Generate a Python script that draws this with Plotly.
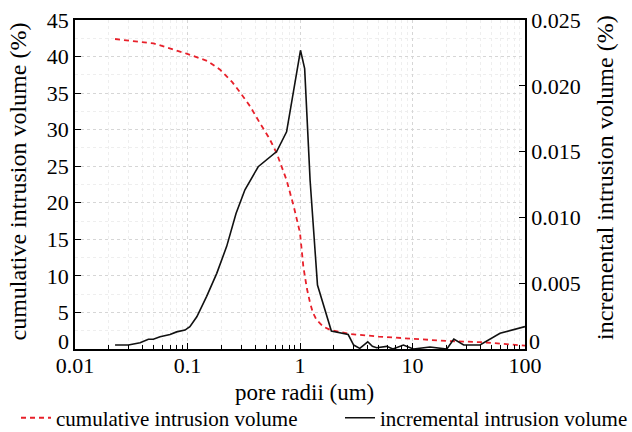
import plotly.graph_objects as go

# cumulative intrusion volume (%) vs pore radius (um)
cum_x = [0.0227, 0.05, 0.098, 0.15, 0.195, 0.25, 0.29, 0.36, 0.44, 0.53, 0.62, 0.76, 0.88, 1.0, 1.07, 1.15, 1.23, 1.3, 1.4, 1.6, 1.86, 2.3, 2.77, 5.0, 10.9, 20.0, 42.6, 70.0, 100.0]
cum_y = [42.4, 41.8, 40.4, 39.4, 38.2, 36.5, 35.2, 33.2, 30.9, 28.9, 26.8, 23.1, 19.5, 15.9, 11.3, 8.3, 6.3, 5.0, 4.0, 3.1, 2.6, 2.3, 2.05, 1.7, 1.33, 1.1, 0.92, 0.65, 0.45]

# incremental intrusion volume (%) vs pore radius (um)
inc_x = [0.0227, 0.0298, 0.0379, 0.0449, 0.0497, 0.057, 0.07, 0.08, 0.095, 0.105, 0.121, 0.148, 0.182, 0.223, 0.27, 0.324, 0.425, 0.62, 0.76, 1.01, 1.1, 1.23, 1.43, 1.9, 2.68, 3.0, 3.4, 4.0, 4.4, 4.8, 5.9, 6.7, 8.3, 10.2, 14.3, 20.2, 23.3, 28.5, 39.8, 60.0, 100.0]
inc_y = [0.0003, 0.0003, 0.00048, 0.00074, 0.00074, 0.00093, 0.0011, 0.0013, 0.00144, 0.0017, 0.00245, 0.004, 0.00575, 0.0078, 0.0103, 0.0121, 0.01385, 0.015, 0.0165, 0.0227, 0.0213, 0.0128, 0.00486, 0.00137, 0.0011, 0.0003, 0.00005, 0.00055, 0.0002, 0.0001, 0.0002, 0.0, 0.0003, 0.0, 0.00015, 0.0, 0.00075, 0.0003, 0.0003, 0.0012, 0.0017]

x_tickvals = [0.01, 0.1, 1, 10, 100]
x_ticktext = ["0.01", "0.1", "1", "10", "100"]
x_minor = [m * 10.0 ** e for e in range(-2, 2) for m in range(2, 10)]
y_tickvals = [0, 5, 10, 15, 20, 25, 30, 35, 40, 45]
y_ticktext = ["", "5", "10", "15", "20", "25", "30", "35", "40", "45"]
y2_tickvals = [0, 0.005, 0.010, 0.015, 0.020, 0.025]
y2_ticktext = ["", "0.005", "0.010", "0.015", "0.020", "0.025"]
zero_label = "0"

x_title = "pore radii (um)"
y_title = "cumulative intrusion volume (%)"
y2_title = "incremental intrusion volume (%)"

FONT = "'Liberation Serif', 'Times New Roman', 'DejaVu Serif', serif"

fig = go.Figure()
fig.add_trace(go.Scatter(x=cum_x, y=cum_y, mode="lines", name="cumulative intrusion volume",
                         line=dict(color="#e8202a", width=1.8, dash="5px,4px"), yaxis="y",
                         legend="legend"))
fig.add_trace(go.Scatter(x=inc_x, y=inc_y, mode="lines", name="incremental intrusion volume",
                         line=dict(color="#111111", width=1.6), yaxis="y2",
                         legend="legend2"))

leg_common = dict(orientation="h", xref="container", yref="paper", y=-0.21,
                  xanchor="left", yanchor="middle", font=dict(size=21, family=FONT),
                  bgcolor="rgba(0,0,0,0)")

fig.update_layout(
    width=632, height=432,
    margin=dict(l=75, r=107, t=20, b=83, autoexpand=False),
    paper_bgcolor="white", plot_bgcolor="white",
    font=dict(family=FONT, size=22, color="black"),
    showlegend=True,
    legend=dict(x=16 / 632, **leg_common),
    legend2=dict(x=340 / 632, **leg_common),
    xaxis=dict(type="log", range=[-2, 2], tickvals=x_tickvals, ticktext=x_ticktext,
               ticks="inside", ticklen=6, tickwidth=1.2, tickcolor="black",
               showline=True, linecolor="black", linewidth=1.5, mirror=True,
               showgrid=True, gridcolor="#d6d6d6", griddash="dot", gridwidth=1,
               minor=dict(tickmode="array", tickvals=x_minor, ticks="inside", ticklen=4,
                          tickcolor="black", showgrid=True, gridcolor="#eeeeee",
                          griddash="dot"),
               tickfont=dict(size=22), ticklabelstandoff=-4, zeroline=False,
               automargin=False),
    yaxis=dict(range=[0, 45], tickmode="array", tickvals=y_tickvals, ticktext=y_ticktext,
               ticks="inside", ticklen=6, tickwidth=1.2,
               tickcolor="black", showline=True, linecolor="black", linewidth=1.5,
               showgrid=True, gridcolor="#d6d6d6", griddash="dot",
               minor=dict(tickmode="linear", tick0=0, dtick=2.5, ticks="", showgrid=True,
                          gridcolor="#eeeeee", griddash="dot"),
               tickfont=dict(size=22), zeroline=False, automargin=False),
    yaxis2=dict(range=[0, 0.025], overlaying="y", side="right", tickmode="array",
                tickvals=y2_tickvals, ticktext=y2_ticktext, ticks="inside", ticklen=6,
                tickwidth=1.2, tickcolor="black", showline=True, linecolor="black",
                linewidth=1.5, showgrid=False, zeroline=False,
                tickfont=dict(size=22), automargin=False),
    annotations=[
        dict(text=x_title, xref="paper", yref="paper", x=0.51, y=-0.1307,
             xanchor="center", yanchor="middle", showarrow=False, font=dict(size=23)),
        dict(text=y_title, xref="paper", yref="paper", x=-0.1267, y=0.509, textangle=-90,
             xanchor="center", yanchor="middle", showarrow=False, font=dict(size=24)),
        dict(text=y2_title, xref="paper", yref="paper", x=1.1778, y=0.52, textangle=-90,
             xanchor="center", yanchor="middle", showarrow=False, font=dict(size=24)),
        dict(text=zero_label, xref="paper", yref="y", x=0, y=y_tickvals[0], xanchor="right",
             yanchor="middle", xshift=-4, yshift=8, showarrow=False, font=dict(size=22)),
        dict(text=zero_label, xref="paper", yref="y2", x=1, y=y2_tickvals[0], xanchor="left",
             yanchor="middle", xshift=2, yshift=8, showarrow=False, font=dict(size=22)),
    ],
)

fig.write_html("out.html", config={"displayModeBar": False},
               post_script="document.body.style.margin='0';")
